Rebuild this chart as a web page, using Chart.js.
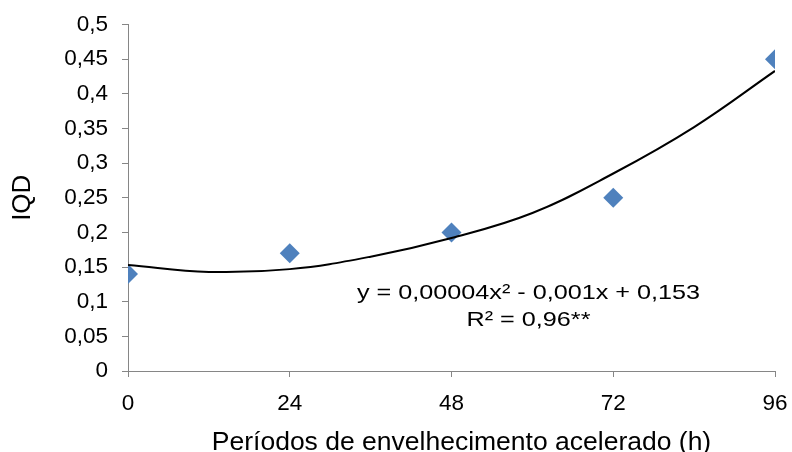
<!DOCTYPE html>
<html>
<head>
<meta charset="utf-8">
<script src="https://cdn.jsdelivr.net/npm/chart.js@4.4.1/dist/chart.umd.min.js"></script>
<style>
  html, body { margin: 0; padding: 0; background: #ffffff; }
  #wrap { width: 792px; height: 452px; }
</style>
</head>
<body>
<div id="wrap"><canvas id="c" width="792" height="452"></canvas></div>
<script>
// Observed data (hours of accelerated ageing vs IQD)
const periods = [0, 24, 48, 72, 96];
const iqd = [0.14, 0.17, 0.20, 0.25, 0.45];

// Trendline
const trendX = [0, 12, 24, 36, 48, 60, 72, 84, 96];
const trendY = [0.153, 0.143, 0.147, 0.165, 0.192, 0.228, 0.285, 0.352, 0.433];

// Tick labels
const xTickLabels = ['0', '24', '48', '72', '96'];
const yTickLabels = ['0', '0,05', '0,1', '0,15', '0,2', '0,25', '0,3', '0,35', '0,4', '0,45', '0,5'];

// Texts
const xTitle = 'Períodos de envelhecimento acelerado (h)';
const yTitle = 'IQD';
const equationLines = ['y = 0,00004x² - 0,001x + 0,153', 'R² = 0,96**'];

const FONT = "'Liberation Sans', Arial, sans-serif";
const AXIS_GREY = '#868686';

const textPlugin = {
  id: 'texts',
  afterDraw(chart) {
    const ctx = chart.ctx;
    const ca = chart.chartArea;
    ctx.save();
    ctx.fillStyle = '#000000';
    ctx.textAlign = 'center';
    ctx.textBaseline = 'middle';
    // equation (slightly wide lettering as in the reference)
    ctx.font = '21px ' + FONT;
    [[equationLines[0], 293], [equationLines[1], 320]].forEach(([t, y]) => {
      ctx.save();
      ctx.translate(528.5, y);
      ctx.scale(1.2, 1);
      ctx.fillText(t, 0, 0);
      ctx.restore();
    });
    // x title
    ctx.font = '26.5px ' + FONT;
    ctx.fillText(xTitle, 461.5, 443);
    // y title
    ctx.font = '26px ' + FONT;
    ctx.translate(23, (ca.top + ca.bottom) / 2);
    ctx.rotate(-Math.PI / 2);
    ctx.fillText(yTitle, 0, 0);
    ctx.restore();
  }
};

new Chart(document.getElementById('c'), {
  type: 'scatter',
  data: {
    datasets: [
      {
        label: 'Tendência',
        data: trendX.map((x, i) => ({ x: x, y: trendY[i] })),
        showLine: true,
        borderColor: '#000000',
        borderWidth: 2,
        pointRadius: 0,
        tension: 0.4,
        fill: false,
        order: 0
      },
      {
        label: 'IQD',
        data: periods.map((x, i) => ({ x: x, y: iqd[i] })),
        showLine: false,
        pointStyle: 'rectRot',
        pointRadius: 10,
        pointBackgroundColor: '#4f81bd',
        pointBorderColor: '#4f81bd',
        pointBorderWidth: 0,
        order: 1
      }
    ]
  },
  options: {
    responsive: false,
    animation: false,
    devicePixelRatio: 1,
    layout: { padding: { top: 24.5, right: 17, left: 0, bottom: 0 } },
    plugins: {
      legend: { display: false },
      tooltip: { enabled: false }
    },
    scales: {
      x: {
        type: 'linear',
        min: 0,
        max: 96,
        afterFit(scale) {
          scale.height = 81;
          scale.paddingLeft = 0;
          scale.paddingRight = 0;
        },
        afterBuildTicks(scale) {
          scale.ticks = periods.map(v => ({ value: v }));
        },
        ticks: {
          padding: 13,
          color: '#000000',
          font: { family: FONT, size: 22.5 },
          maxRotation: 0,
          callback: (v, i) => xTickLabels[i]
        },
        grid: {
          drawOnChartArea: false,
          drawTicks: true,
          tickLength: 6,
          color: AXIS_GREY,
          lineWidth: 1
        },
        border: { color: AXIS_GREY, width: 1 }
      },
      y: {
        type: 'linear',
        min: 0,
        max: 0.5,
        afterFit(scale) {
          scale.width = 128;
          scale.paddingTop = 0;
          scale.paddingBottom = 0;
        },
        afterBuildTicks(scale) {
          scale.ticks = yTickLabels.map((t, i) => ({ value: i * 0.05 }));
        },
        ticks: {
          padding: 14,
          color: '#000000',
          font: { family: FONT, size: 22.5 },
          callback: (v, i) => yTickLabels[i]
        },
        grid: {
          drawOnChartArea: false,
          drawTicks: true,
          tickLength: 6,
          color: AXIS_GREY,
          lineWidth: 1
        },
        border: { color: AXIS_GREY, width: 1 }
      }
    }
  },
  plugins: [textPlugin]
});
</script>
</body>
</html>
